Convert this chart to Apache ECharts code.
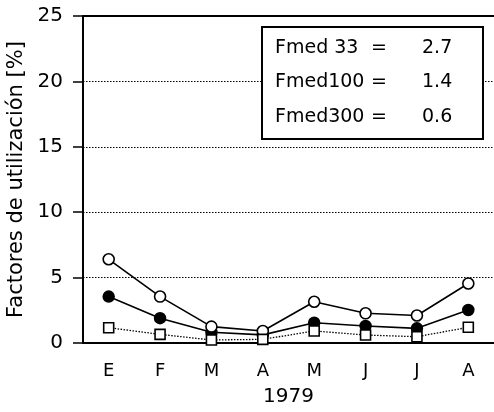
<!DOCTYPE html>
<html><head><meta charset="utf-8">
<script src="https://cdn.jsdelivr.net/npm/echarts@6/dist/echarts.min.js"></script>
<style>html,body{margin:0;padding:0;background:#fff}#c{width:494px;height:412px}</style>
</head><body><div id="c"></div>
<script>
const months = ['E','F','M','A','M','J','J','A'];
const yTicks = [0,5,10,15,20,25];
const fmed33 = [6.4,3.55,1.25,0.92,3.15,2.27,2.1,4.55];
const fmed100 = [3.55,1.9,0.82,0.62,1.55,1.3,1.12,2.52];
const fmed300 = [1.17,0.66,0.23,0.28,0.92,0.61,0.48,1.2];
const legendNames = ['Fmed 33','Fmed100','Fmed300'];
const legendValues = ['2.7','1.4','0.6'];
const xTitle = '1979';
const yTitle = 'Factores de utilización [%]';

const font = 'DejaVu Sans';
const chart = echarts.init(document.getElementById('c'));
const legendGraphics = [{
  type:'rect', shape:{x:262,y:27,width:221,height:112},
  style:{fill:'#fff',stroke:'#000',lineWidth:2}, z:100
}];
legendNames.forEach((n,i)=>{
  const y = 48 + i*34.5;
  legendGraphics.push({type:'text', x:275, y:y, z:101,
    style:{text:n, font:'19px "DejaVu Sans"', fill:'#000', verticalAlign:'middle'}});
  legendGraphics.push({type:'text', x:371, y:y, z:101,
    style:{text:'=', font:'19px "DejaVu Sans"', fill:'#000', verticalAlign:'middle'}});
  legendGraphics.push({type:'text', x:422, y:y, z:101,
    style:{text:legendValues[i], font:'19px "DejaVu Sans"', fill:'#000', verticalAlign:'middle'}});
});
chart.setOption({
  animation:false,
  grid:{left:83,right:0,top:16,bottom:69,containLabel:false,outerBoundsMode:'none'},
  xAxis:[{
    type:'category', data:months, boundaryGap:true,
    axisLine:{lineStyle:{color:'#000',width:2}},
    axisTick:{alignWithLabel:true,length:11,lineStyle:{color:'#000',width:1.5}},
    axisLabel:{color:'#000',fontFamily:font,fontSize:18,margin:19},
    name:xTitle, nameLocation:'middle', nameGap:44,
    nameTextStyle:{color:'#000',fontFamily:font,fontSize:20},
    splitLine:{show:false}
  },{
    type:'category', data:months, position:'top',
    axisLine:{lineStyle:{color:'#000',width:2}},
    axisTick:{show:false}, axisLabel:{show:false}
  }],
  yAxis:{
    type:'value', min:0, max:25, interval:5,
    axisLine:{show:true,lineStyle:{color:'#000',width:2}},
    axisTick:{show:true,length:10,lineStyle:{color:'#000',width:1.5}},
    axisLabel:{color:'#000',fontFamily:font,fontSize:20,margin:20,
      formatter:v=>yTicks.includes(v)?String(v):''},
    splitLine:{show:true,lineStyle:{color:'#000',type:[1.5,1.5],width:1.2}},
    name:yTitle, nameLocation:'middle', nameGap:52,
    nameTextStyle:{color:'#000',fontFamily:font,fontSize:21}
  },
  series:[
    {type:'line', data:fmed100, symbol:'circle', symbolSize:11,
      lineStyle:{color:'#000',width:1.6},
      itemStyle:{color:'#000',borderColor:'#000',borderWidth:1.5}, z:3},
    {type:'line', data:fmed33, symbol:'circle', symbolSize:11,
      lineStyle:{color:'#000',width:1.6},
      itemStyle:{color:'#fff',borderColor:'#000',borderWidth:1.6}, z:4},
    {type:'line', data:fmed300, symbol:'rect', symbolSize:10,
      lineStyle:{color:'#000',width:1.3,type:[1.5,1.5]},
      itemStyle:{color:'#fff',borderColor:'#000',borderWidth:1.6}, z:5}
  ],
  graphic:legendGraphics
});
</script></body></html>
